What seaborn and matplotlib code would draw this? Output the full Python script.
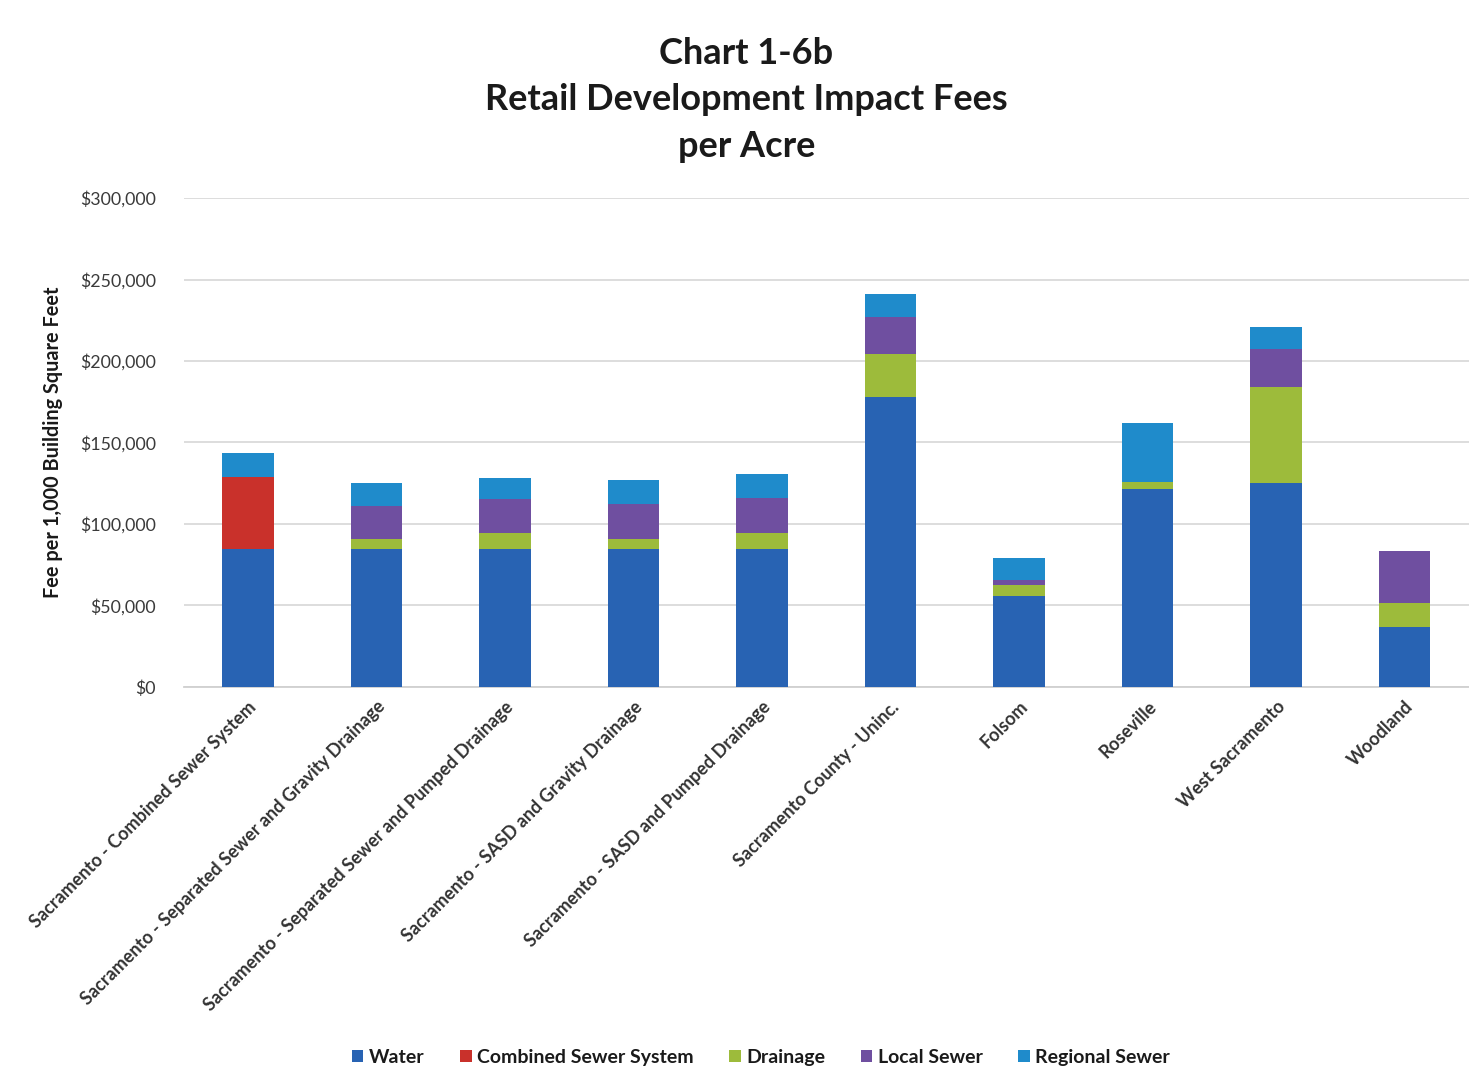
import numpy as np
import pandas as pd
import matplotlib
matplotlib.use("Agg")
import matplotlib.pyplot as plt
from matplotlib.patches import Patch
from matplotlib.ticker import FuncFormatter
import seaborn as sns

# Jurisdictions / scenarios
categories = [
    "Sacramento - Combined Sewer System",
    "Sacramento - Separated Sewer and Gravity Drainage",
    "Sacramento - Separated Sewer and Pumped Drainage",
    "Sacramento - SASD and Gravity Drainage",
    "Sacramento - SASD and Pumped Drainage",
    "Sacramento County - Uninc.",
    "Folsom",
    "Roseville",
    "West Sacramento",
    "Woodland",
]

# Fee components per acre (dollars)
water = [84500, 84900, 84400, 84400, 84500, 177700, 55800, 121300, 124900, 36800]
combined_sewer = [44300, 0, 0, 0, 0, 0, 0, 0, 0, 0]
drainage = [0, 6100, 10300, 6200, 10200, 26800, 6600, 4500, 59300, 14900]
local_sewer = [0, 20000, 20400, 21900, 21100, 22500, 3200, 0, 22900, 31700]
regional_sewer = [14800, 14200, 13300, 14700, 14700, 14100, 13700, 36400, 14000, 0]

series_names = ["Water", "Combined Sewer System", "Drainage", "Local Sewer", "Regional Sewer"]
series_values = [water, combined_sewer, drainage, local_sewer, regional_sewer]
series_colors = ["#2863B3", "#C9312B", "#9DBB3B", "#6F4FA0", "#1F8BCB"]

yticks = [0, 50000, 100000, 150000, 200000, 250000, 300000]

sns.set_theme(style="white")
plt.rcParams["font.family"] = ["Lato", "DejaVu Sans"]

fig = plt.figure(figsize=(14.69, 10.88), dpi=100)
ax = fig.add_axes([0.125, 0.3686, 0.875, 0.4494])

# Stacked bars: draw running totals from the top segment down so each
# lower component covers the part of the taller bar beneath it.
cum = np.cumsum(np.array(series_values, dtype=float), axis=0)
for i in range(len(series_names) - 1, -1, -1):
    df = pd.DataFrame({"category": categories, "value": cum[i]})
    sns.barplot(data=df, x="category", y="value", color=series_colors[i],
                width=0.4, saturation=1, linewidth=0, ax=ax, zorder=3)

ax.set_ylim(0, 300000)
ax.set_xlim(-0.5, len(categories) - 0.5)
ax.set_yticks(yticks)
ax.yaxis.set_major_formatter(FuncFormatter(lambda v, p: f"${v:,.0f}"))
ax.grid(axis="y", color="#DADADA", linewidth=1.3, zorder=0)
ax.set_axisbelow(True)
for s in ["top", "right", "left"]:
    ax.spines[s].set_visible(False)
ax.spines["bottom"].set_color("#D0D0D0")
ax.spines["bottom"].set_linewidth(1.3)
ax.tick_params(axis="y", length=0, pad=20, labelsize=12.8, labelcolor="#3a3a3a")
ax.tick_params(axis="x", length=0, pad=8)

ax.set_xticks(range(len(categories)))
ax.set_xticklabels(categories, rotation=45, ha="right", rotation_mode="anchor",
                   fontsize=13, fontweight="bold", color="#333333")
ax.set_xlabel("")
ax.set_ylabel("Fee per 1,000 Building Square Feet", fontsize=14.3,
              fontweight="bold", color="#1a1a1a", labelpad=12)

fig.text(0.508, 0.966, "Chart 1-6b\nRetail Development Impact Fees\nper Acre",
         ha="center", va="top", fontsize=26, fontweight="bold",
         color="#1a1a1a", linespacing=1.5)

handles = [Patch(facecolor=c, edgecolor="none") for c in series_colors]
fig.legend(handles, series_names, loc="center", bbox_to_anchor=(0.518, 0.028),
           ncol=5, frameon=False, handlelength=0.6, handleheight=0.6,
           handletextpad=0.3, columnspacing=1.8,
           prop={"size": 14, "weight": "bold"}, labelcolor="#1a1a1a")

fig.savefig("out.png", dpi=100, facecolor="white")
